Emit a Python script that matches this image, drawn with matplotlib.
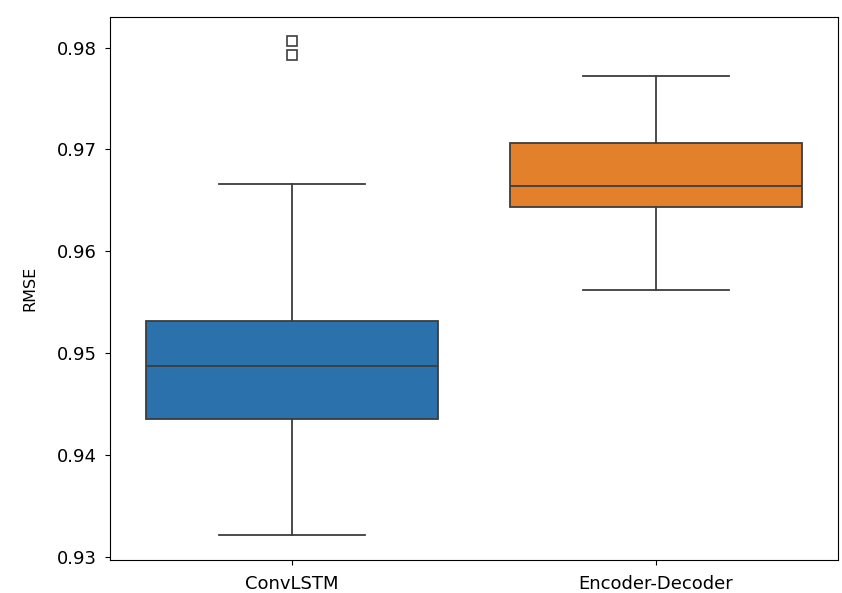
import numpy as np
import matplotlib
matplotlib.use("Agg")
import matplotlib.pyplot as plt

# Model names and box statistics of the RMSE distributions
models = ["ConvLSTM", "Encoder-Decoder"]
whisker_low = [0.9322, 0.9562]
q1 = [0.9435, 0.9644]
median = [0.9487, 0.9664]
q3 = [0.9532, 0.9706]
whisker_high = [0.9666, 0.9772]
fliers = [[0.9806, 0.9793], []]

colors = ["#2b72ad", "#e3802b"]
yticks = [0.93, 0.94, 0.95, 0.96, 0.97, 0.98]

plt.rcParams['font.size'] = 13

fig = plt.figure(figsize=(8.42, 5.93), dpi=100)
ax = fig.add_axes([0.1306, 0.0556, 0.8646, 0.9157])

stats = []
for i, name in enumerate(models):
    stats.append(dict(label=name, whislo=whisker_low[i], q1=q1[i], med=median[i],
                      q3=q3[i], whishi=whisker_high[i], fliers=np.array(fliers[i])))

line_col = "#3d3d3d"
bp = ax.bxp(stats, positions=range(len(models)), widths=0.8, patch_artist=True,
            showcaps=True, capwidths=0.4,
            boxprops=dict(edgecolor=line_col, linewidth=1.3),
            medianprops=dict(color=line_col, linewidth=1.3),
            whiskerprops=dict(color=line_col, linewidth=1.3),
            capprops=dict(color=line_col, linewidth=1.3),
            flierprops=dict(marker='s', markersize=7, markerfacecolor='none',
                            markeredgecolor=line_col, markeredgewidth=1.2))
for patch, c in zip(bp['boxes'], colors):
    patch.set_facecolor(c)

ax.set_xlim(-0.5, 1.5)
ax.set_ylim(0.9297, 0.9830)
ax.set_yticks(yticks)
ax.set_yticklabels([f"{t:.2f}" for t in yticks])
ax.tick_params(axis='y', pad=6)
ax.tick_params(axis='x', pad=7)
ax.set_xticks(range(len(models)))
ax.set_xticklabels(models)
ax.set_ylabel("RMSE", fontsize=11.5, labelpad=14)

plt.savefig("out.png", dpi=100)
